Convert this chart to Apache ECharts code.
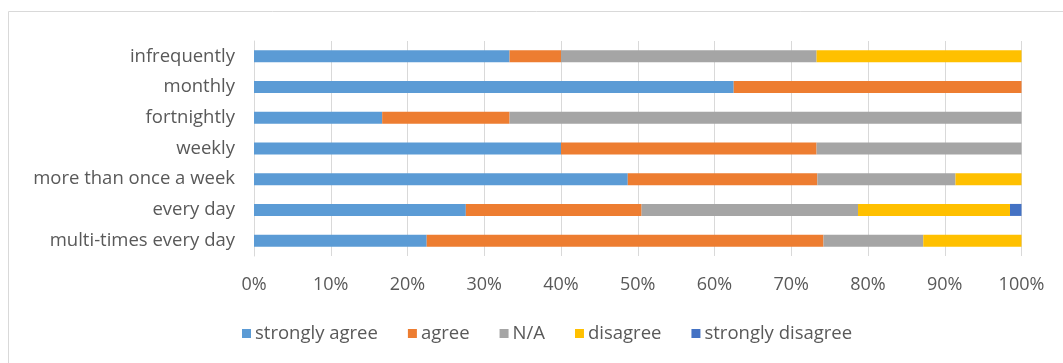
<!DOCTYPE html>
<html><head><meta charset="utf-8">
<script src="https://cdn.jsdelivr.net/npm/echarts@6/dist/echarts.min.js"></script>
<style>html,body{margin:0;padding:0;background:#fff}#c{width:1063px;height:363px}</style>
</head><body><div id="c"></div>
<script>
// categories, bottom to top
const categories = ["multi-times every day","every day","more than once a week","weekly","fortnightly","monthly","infrequently"];
const stronglyAgree    = [22.5, 27.6, 48.7, 40.0, 16.7, 62.5, 33.3];
const agree            = [51.7, 22.9, 24.7, 33.3, 16.6, 37.5, 6.7];
const notApplicable    = [13.0, 28.2, 18.0, 26.7, 66.7, 0, 33.3];
const disagree         = [12.8, 19.8, 8.6, 0, 0, 0, 26.7];
const stronglyDisagree = [0, 1.5, 0, 0, 0, 0, 0];
const xTicks = [0,10,20,30,40,50,60,70,80,90,100];

const seriesDefs = [
  ["strongly agree", stronglyAgree, "#5B9BD5"],
  ["agree", agree, "#ED7D31"],
  ["N/A", notApplicable, "#A5A5A5"],
  ["disagree", disagree, "#FFC000"],
  ["strongly disagree", stronglyDisagree, "#4472C4"]
];
const font = "'Open Sans', sans-serif";
const chart = echarts.init(document.getElementById('c'));
chart.setOption({
  animation: false,
  graphic: [{type:'rect', shape:{x:8.5,y:11.5,width:1200,height:500}, style:{fill:'none', stroke:'#d9d9d9', lineWidth:1}, silent:true, z:-1}],
  grid: {left:254, right:41.5, top:41, bottom:107},
  xAxis: {type:'value', min:xTicks[0], max:xTicks[xTicks.length-1], interval:10,
    axisLine:{show:false}, axisTick:{show:false},
    splitLine:{lineStyle:{color:'#d9d9d9', width:1}},
    axisLabel:{formatter:'{value}%', color:'#595959', fontSize:18, fontFamily:font, margin:20}},
  yAxis: {type:'category', data:categories,
    axisLine:{lineStyle:{color:'#d9d9d9'}}, axisTick:{show:false},
    axisLabel:{color:'#595959', fontSize:18.5, fontFamily:font, margin:19}},
  legend: {bottom:15, left:237, itemWidth:9, itemHeight:9, icon:'rect', itemGap:30,
    textStyle:{color:'#595959', fontSize:18.5, fontFamily:font, padding:[0,0,0,-1]}},
  series: seriesDefs.map(([name, data, color]) => ({
    name, type:'bar', stack:'total', data, barWidth:12,
    itemStyle:{color}
  }))
});
</script></body></html>
